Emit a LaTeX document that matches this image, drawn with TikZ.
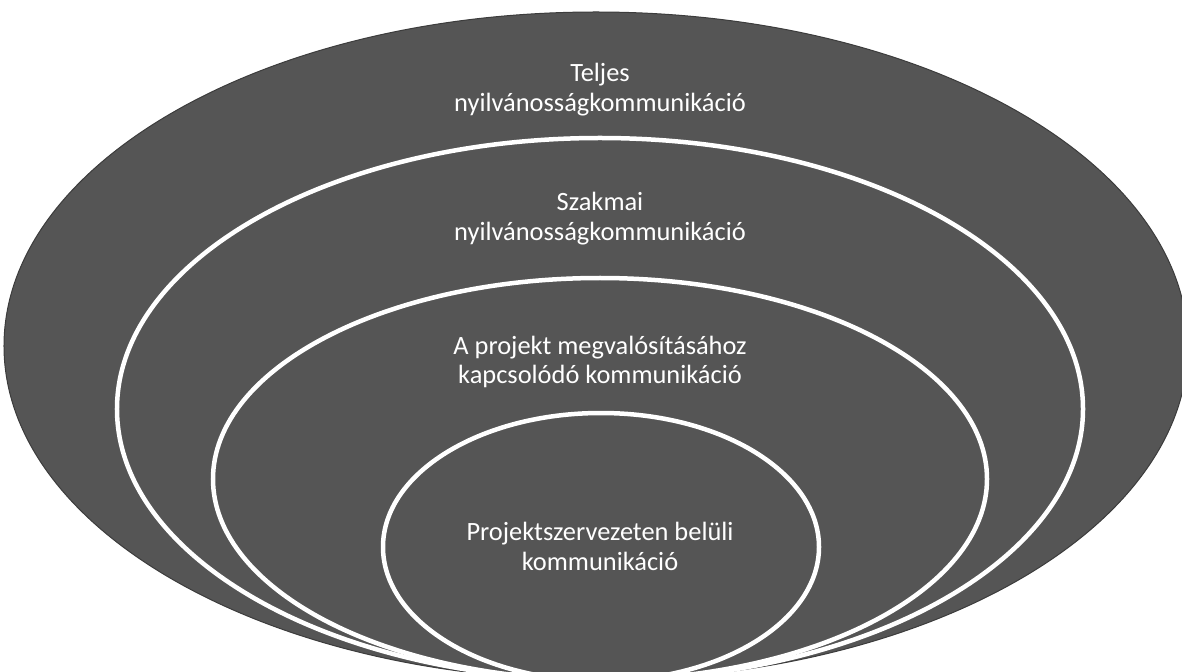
\documentclass[tikz,border=0pt]{standalone}
\usepackage{fontspec}
\setmainfont{Carlito}
\usetikzlibrary{shapes.geometric}
\definecolor{ringgray}{HTML}{555555}
\begin{document}
\begin{tikzpicture}[
    x=1bp, y=-1bp,
    ring/.style={ellipse, fill=ringgray, draw=white, line width=4.5bp, inner sep=0pt},
    outerring/.style={ellipse, fill=ringgray, draw=ringgray!70!black, line width=1bp, inner sep=0pt},
    label/.style={text=white, align=center, font=\fontsize{26.5}{30}\selectfont}
  ]
    \useasboundingbox (0,0) rectangle (1182,672);
    \clip (0,0) rectangle (1182,672);

    % Rings
    \node[outerring, minimum width=1184bp, minimum height=668bp] at (596,346) (teljes)   {};
    \node[ring, minimum width=966bp,  minimum height=542bp] at (600,409) (szakmai)  {};
    \node[ring, minimum width=774bp,  minimum height=402bp] at (600,479) (projekt)  {};
    \node[ring, minimum width=436bp,  minimum height=268bp] at (601,547) (belso)    {};

    % Texts
    \node[label] at (600,90)  (teljestxt)  {Teljes\\nyilvánosságkommunikáció};
    \node[label] at (600,219) (szakmaitxt) {Szakmai\\nyilvánosságkommunikáció};
    \node[label] at (600,362) (projekttxt) {A projekt megvalósításához\\kapcsolódó kommunikáció};
    \node[label] at (600,546) (belsotxt)   {Projektszervezeten belüli\\kommunikáció};

  \end{tikzpicture}
\end{document}
